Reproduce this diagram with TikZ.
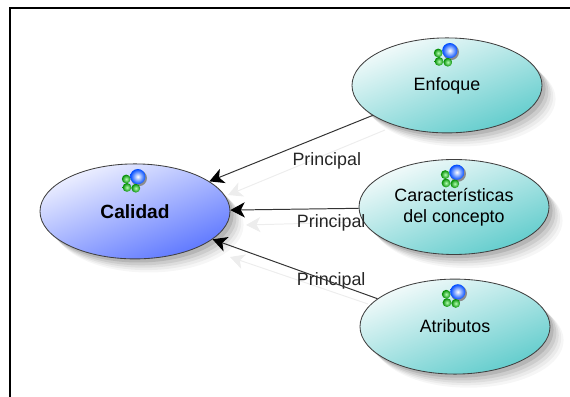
\documentclass[tikz,border=0pt]{standalone}
\usepackage{fontspec}
\setmainfont{Liberation Sans}
\usetikzlibrary{arrows.meta,shadows,shapes.geometric}
\definecolor{tealhi}{RGB}{245,251,251}
\definecolor{teallo}{RGB}{96,204,204}
\definecolor{bluehi}{RGB}{240,242,255}
\definecolor{bluelo}{RGB}{92,118,255}
\tikzset{
  softshadow/.style={
    general shadow={shadow xshift=0.34cm,shadow yshift=-0.34cm,scale=0.98,fill=black,opacity=0.035},
    general shadow={shadow xshift=0.28cm,shadow yshift=-0.28cm,scale=0.98,fill=black,opacity=0.045},
    general shadow={shadow xshift=0.22cm,shadow yshift=-0.22cm,scale=0.99,fill=black,opacity=0.06},
    general shadow={shadow xshift=0.16cm,shadow yshift=-0.16cm,scale=0.99,fill=black,opacity=0.08},
    general shadow={shadow xshift=0.09cm,shadow yshift=-0.09cm,scale=1,fill=black,opacity=0.11}},
  usecase/.style={ellipse,draw=black!75,line width=0.6pt,minimum width=4.75cm,minimum height=2.375cm,
    inner sep=0pt,align=center,softshadow,
    font=\fontsize{12.7}{15}\selectfont},
  tealcase/.style={usecase,top color=tealhi,bottom color=teallo,shading angle=22},
  bluecase/.style={usecase,top color=bluehi,bottom color=bluelo,shading angle=22,
    font=\fontsize{13.6}{15}\selectfont\bfseries},
  link/.style={draw=black!80,line width=0.7pt,-{Stealth[length=0.36cm,width=0.38cm,inset=0.1cm,black]}},
  ghostlink/.style={draw=black!7,line width=0.7pt,-{Stealth[length=0.36cm,width=0.38cm,inset=0.1cm]}},
  linklabel/.style={font=\fontsize{12.7}{15}\selectfont,text=black!85,inner sep=0pt},
  icon/.pic={
    \fill[black!45] (0.1,0.83) circle (0.2);
    \foreach \p in {(-0.22,0.81),(-0.2,0.6),(0.02,0.58)}
      \shade[inner color=white!70!green,outer color=green!55!black] \p circle (0.11);
    \shade[inner color=white,middle color=cyan!50!white,outer color=blue!70!cyan] (0.07,0.87) circle (0.19);
  }
}
\begin{document}
\begin{tikzpicture}
  \useasboundingbox (0,0) rectangle (14.25,9.925);
  \clip (0,0) rectangle (14.25,9.925);
  \draw[line width=1.4pt] (0.25,0) -- (0.25,9.725) -- (14.25,9.725);

  % faint copies of the arrows
  \coordinate (ga) at (9.625,6.675);
  \coordinate (gc) at (5.7,5.05);
  \coordinate (gd) at (9,4.375);
  \coordinate (ge) at (6.15,4.3);
  \coordinate (gf) at (9.2,2.325);
  \coordinate (gg) at (5.75,3.5);
  \draw[ghostlink] (ga) -- (gc);
  \draw[ghostlink] (gd) -- (ge);
  \draw[ghostlink] (gf) -- (gg);

  \node[bluecase] (calidad) at (3.375,4.64) {Calidad};
  \node[tealcase] (enfoque) at (11.175,7.79) {Enfoque};
  \node[tealcase] (concepto) at (11.35,4.75) {Características\\del concepto};
  \node[tealcase] (atributos) at (11.375,1.76) {Atributos};

  \pic at (calidad.center) {icon};
  \pic at (enfoque.center) {icon};
  \pic at (concepto.center) {icon};
  \pic at (atributos.center) {icon};

  \node[linklabel] (la) at (8.17,5.9) {Principal};
  \node[linklabel] (lb) at (8.28,4.35) {Principal};
  \node[linklabel] (lc) at (8.28,2.9) {Principal};

  \draw[link] (enfoque) -- (calidad);
  \draw[link] (concepto) -- (calidad);
  \draw[link] (atributos) -- (calidad);
\end{tikzpicture}
\end{document}
